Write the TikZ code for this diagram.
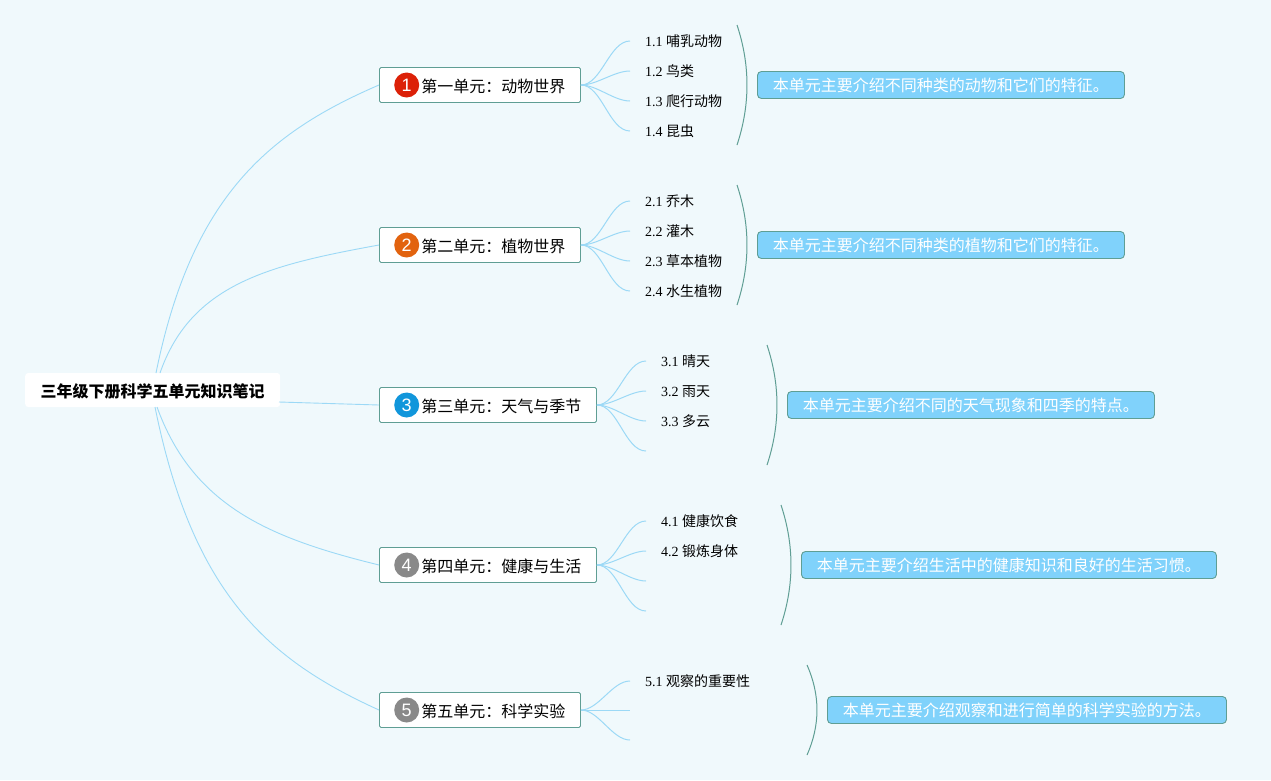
\documentclass[tikz,border=0pt]{standalone}
\usepackage{fontspec}
\setmainfont{Liberation Serif}
\newfontfamily\cjk{Noto Sans CJK SC}
\newfontfamily\badgefont{Liberation Sans}
\usetikzlibrary{positioning}
\definecolor{paper}{HTML}{F0F9FC}
\definecolor{linkblue}{HTML}{9CD9F6}
\definecolor{edgeteal}{HTML}{5F9E94}
\definecolor{notefill}{HTML}{80D2FB}
\definecolor{badgered}{HTML}{DC2108}
\definecolor{badgeorange}{HTML}{E2630F}
\definecolor{badgeblue}{HTML}{1196DB}
\definecolor{badgegrey}{HTML}{898989}
\begin{document}
\begin{tikzpicture}[x=1pt, y=-1pt, every node/.style={font=\cjk}]
  \tikzstyle{root}=[fill=white, rounded corners=3pt, anchor=west, inner xsep=15.5pt, text height=16pt, text depth=1pt, minimum height=34pt, font=\cjk\bfseries\fontsize{16}{16}\selectfont]
  \tikzstyle{unit}=[draw=edgeteal, line width=0.9pt, fill=white, rounded corners=1.5pt, anchor=west, inner xsep=15pt, text height=16pt, text depth=1pt, minimum height=35pt, font=\cjk\fontsize{16}{16}\selectfont]
  \tikzstyle{badge}=[circle, inner sep=0pt, minimum size=25pt, text=white, font=\badgefont\fontsize{18}{18}\selectfont]
  \tikzstyle{leaf}=[anchor=west, inner xsep=15pt, inner ysep=0pt, text height=12.5pt, text depth=1.5pt, font=\fontsize{14}{14}\selectfont]
  \tikzstyle{note}=[draw=edgeteal, line width=0.9pt, fill=notefill, rounded corners=4pt, anchor=west, inner xsep=15.5pt, minimum height=27pt, text=white, font=\cjk\fontsize{16}{16}\selectfont]
  \tikzstyle{link}=[draw=linkblue, line width=0.9pt]
  \tikzstyle{fan}=[link, line width=1pt, out=0, in=180, looseness=0.8]
  \tikzstyle{bracket}=[draw=edgeteal, line width=1pt]
  \fill[paper] (0,0) rectangle (1271,780);
  \useasboundingbox (0,0) rectangle (1271,780);

  \node[root] (root) at (25,390) {三年级下册科学五单元知识笔记};

  % units
  \node[unit] (u1) at (379,85) {\hspace{27pt}第一单元：动物世界};
  \node[unit] (u2) at (379,245) {\hspace{27pt}第二单元：植物世界};
  \node[unit] (u3) at (379,405) {\hspace{27pt}第三单元：天气与季节};
  \node[unit] (u4) at (379,565) {\hspace{27pt}第四单元：健康与生活};
  \node[unit] (u5) at (379,710) {\hspace{27pt}第五单元：科学实验};
  \node[badge, fill=badgered, right=15pt of u1.west] (b1) {1};
  \node[badge, fill=badgeorange, right=15pt of u2.west] (b2) {2};
  \node[badge, fill=badgeblue, right=15pt of u3.west] (b3) {3};
  \node[badge, fill=badgegrey, right=15pt of u4.west] (b4) {4};
  \node[badge, fill=badgegrey, right=15pt of u5.west] (b5) {5};

  \coordinate (r1) at (156,373); \coordinate (r2) at (160,373);
  \coordinate (r3) at (279,402);
  \coordinate (r4) at (157,407); \coordinate (r5) at (155,407);
  \draw[link] (r1) .. controls (192,195) and (270,132) .. (u1.west);
  \draw[link] (r2) .. controls (191,284) and (269,265) .. (u2.west);
  \draw[link] (r3) -- (u3.west);
  \draw[link] (r4) .. controls (193,506) and (269,538) .. (u4.west);
  \draw[link] (r5) .. controls (193,595) and (269,660) .. (u5.west);

  % leaves
  \node[leaf] (a1) at (630,41) {1.1 {\cjk 哺乳动物}};
  \node[leaf] (a2) at (630,71) {1.2 {\cjk 鸟类}};
  \node[leaf] (a3) at (630,101) {1.3 {\cjk 爬行动物}};
  \node[leaf] (a4) at (630,131) {1.4 {\cjk 昆虫}};
  \node[leaf] (c1) at (630,201) {2.1 {\cjk 乔木}};
  \node[leaf] (c2) at (630,231) {2.2 {\cjk 灌木}};
  \node[leaf] (c3) at (630,261) {2.3 {\cjk 草本植物}};
  \node[leaf] (c4) at (630,291) {2.4 {\cjk 水生植物}};
  \node[leaf] (d1) at (646,361) {3.1 {\cjk 晴天}};
  \node[leaf] (d2) at (646,391) {3.2 {\cjk 雨天}};
  \node[leaf] (d3) at (646,421) {3.3 {\cjk 多云}};
  \coordinate (d4) at (646,451);
  \node[leaf] (e1) at (646,521) {4.1 {\cjk 健康饮食}};
  \node[leaf] (e2) at (646,551) {4.2 {\cjk 锻炼身体}};
  \coordinate (e3) at (646,581); \coordinate (e4) at (646,611);
  \node[leaf] (f1) at (630,681) {5.1 {\cjk 观察的重要性}};
  \coordinate (f2) at (630,710); \coordinate (f3) at (630,740);

  \draw[fan] (u1.east) to (a1.west); \draw[fan] (u1.east) to (a2.west);
  \draw[fan] (u1.east) to (a3.west); \draw[fan] (u1.east) to (a4.west);
  \draw[fan] (u2.east) to (c1.west); \draw[fan] (u2.east) to (c2.west);
  \draw[fan] (u2.east) to (c3.west); \draw[fan] (u2.east) to (c4.west);
  \draw[fan] (u3.east) to (d1.west); \draw[fan] (u3.east) to (d2.west);
  \draw[fan] (u3.east) to (d3.west); \draw[fan] (u3.east) to (d4);
  \draw[fan] (u4.east) to (e1.west); \draw[fan] (u4.east) to (e2.west);
  \draw[fan] (u4.east) to (e3); \draw[fan] (u4.east) to (e4);
  \draw[fan] (u5.east) to (f1.west); \draw[fan] (u5.east) to (f2);
  \draw[fan] (u5.east) to (f3);

  % brackets
  \draw[bracket] (737,25) .. controls (750.3,65) and (750.3,105) .. (737,145);
  \draw[bracket] (737,185) .. controls (750.3,225) and (750.3,265) .. (737,305);
  \draw[bracket] (767,345) .. controls (780.3,385) and (780.3,425) .. (767,465);
  \draw[bracket] (781,505) .. controls (794.3,545) and (794.3,585) .. (781,625);
  \draw[bracket] (807,665) .. controls (820.3,695) and (820.3,725) .. (807,755);

  % notes
  \node[note] (n1) at (757,85) {本单元主要介绍不同种类的动物和它们的特征。};
  \node[note] (n2) at (757,245) {本单元主要介绍不同种类的植物和它们的特征。};
  \node[note] (n3) at (787,405) {本单元主要介绍不同的天气现象和四季的特点。};
  \node[note] (n4) at (801,565) {本单元主要介绍生活中的健康知识和良好的生活习惯。};
  \node[note] (n5) at (827,710) {本单元主要介绍观察和进行简单的科学实验的方法。};
\end{tikzpicture}
\end{document}
